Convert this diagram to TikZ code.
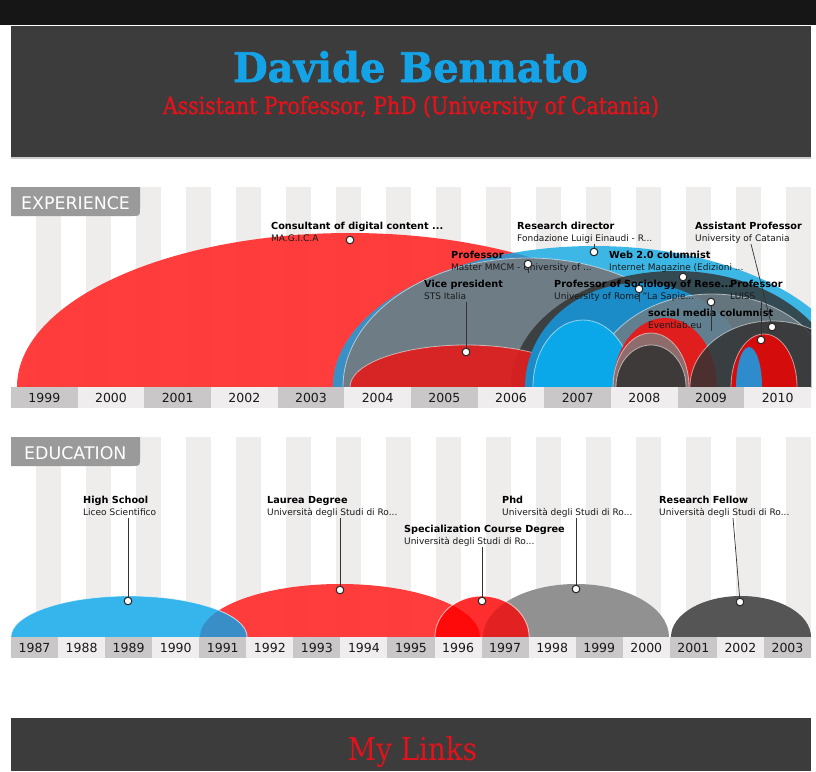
\documentclass[tikz,border=0pt]{standalone}
\usepackage{fontspec}
\usepackage{graphicx}
\setmainfont{DejaVu Sans}
\newfontfamily\slab{DejaVu Serif}
\newfontfamily\slabheavy{DejaVu Serif Bold}[FakeBold=1.6]
\newfontfamily\slabmed{DejaVu Serif}[FakeBold=1.2]
\definecolor{topbar}{HTML}{161616}
\definecolor{hdr}{HTML}{3C3C3C}
\definecolor{titleblue}{HTML}{14A3E6}
\definecolor{subred}{HTML}{E5121B}
\definecolor{stripe}{HTML}{EFECEC}
\definecolor{ydark}{HTML}{C9C7C7}
\definecolor{ylight}{HTML}{EFEDED}
\definecolor{tabgray}{HTML}{9A9A9A}
\definecolor{cRed}{HTML}{FF3333}
\definecolor{cLBlue}{HTML}{33B5E5}
\definecolor{cBlueRed}{HTML}{3A8FC4}
\definecolor{cSteel}{HTML}{6E7C86}
\definecolor{cDark}{HTML}{333333}
\definecolor{cVP}{HTML}{E01E1E}
\definecolor{cMBlue}{HTML}{1B8CC8}
\definecolor{cSlate}{HTML}{6E7D86}
\definecolor{cCyan}{HTML}{0AA8E8}
\definecolor{cRed8}{HTML}{E01E1E}
\definecolor{cPink}{HTML}{8E6C6C}
\definecolor{cBrown}{HTML}{3F3A3A}
\definecolor{cRed10}{HTML}{D40C0C}
\definecolor{cBlue10}{HTML}{2E8CCC}
\definecolor{eBlue}{HTML}{35B5EC}
\definecolor{eBlueRed}{HTML}{3A8EC8}
\definecolor{ePhd}{HTML}{919191}
\definecolor{eSpec}{HTML}{FF2E2E}
\definecolor{eSpecL}{HTML}{FF0A0A}
\definecolor{eSpecP}{HTML}{E22222}
\definecolor{eRF}{HTML}{555555}
\begin{document}
\begin{tikzpicture}[x=1pt,y=-1pt,
  ttl/.style={font=\fontsize{9.7}{11}\selectfont\bfseries, inner sep=0, anchor=base west, text=black},
  sub/.style={font=\fontsize{9}{11}\selectfont, inner sep=0, anchor=base west, text depth=2.5pt, text=black!90},
  yr/.style={font=\fontsize{12.5}{14}\selectfont, inner sep=0, anchor=base, text=black!90},
  tabtext/.style={font=\fontsize{17.4}{20}\selectfont, inner sep=0, anchor=base west, text=white},
  dot/.style={circle, draw=black!85, fill=white, line width=0.9pt, minimum size=7.5pt, inner sep=0},
  leader/.style={draw=black!80, line width=0.7pt},
  rim/.style={draw=white, draw opacity=0.55, line width=0.8pt}]
\useasboundingbox (0,0) rectangle (816,771);
\fill[white] (0,0) rectangle (816,771);
% top bar and header
\fill[topbar] (0,0) rectangle (816,25);
\fill[hdr] (11,26) rectangle (811,157);
\fill[black!20] (11,157) rectangle (811,159);
\node[inner sep=0, anchor=base, text=titleblue] (title) at (410.5,82) {\resizebox{355pt}{31pt}{\slabheavy Davide Bennato}};
\node[inner sep=0, anchor=base, text=subred] (subtitle) at (411,114) {\resizebox{496pt}{18pt}{\slabmed Assistant Professor, PhD (University of Catania)}};

% ===== EXPERIENCE =====
\foreach \i in {0,...,15} \fill[stripe] ({36+50*\i},187) rectangle ++(25,200);
\begin{scope}
\clip (11,187) rectangle (811,387);
\fill[cRed, opacity=0.95] (350,387) ellipse [x radius=333, y radius=154];
\fill[cLBlue, opacity=0.95] (594,387) ellipse [x radius=261, y radius=141];
\begin{scope}
\clip (350,387) ellipse [x radius=333, y radius=154];
\fill[cBlueRed] (594,387) ellipse [x radius=261, y radius=141];
\end{scope}
\fill[cSteel, rim] (528,387) ellipse [x radius=185, y radius=129];
\fill[cDark, fill opacity=0.82] (675,387) ellipse [x radius=164, y radius=116];
\fill[cVP, fill opacity=0.92, rim] (466,387) ellipse [x radius=116, y radius=42];
\fill[cMBlue] (639,387) ellipse [x radius=114, y radius=104];
\fill[cSlate, fill opacity=0.85, rim] (712,387) ellipse [x radius=120, y radius=93];
\fill[cCyan, rim] (583,387) ellipse [x radius=50, y radius=67];
\fill[cRed8] (665,387) ellipse [x radius=52, y radius=69];
\fill[cPink, rim] (651,387) ellipse [x radius=38, y radius=54];
\fill[cBrown, rim] (651,387) ellipse [x radius=35, y radius=42];
\fill[cDark, fill opacity=0.85, rim] (772,387) ellipse [x radius=82, y radius=66];
\fill[cRed10, rim] (764,387) ellipse [x radius=33, y radius=53];
\fill[cBlue10] (749,387) ellipse [x radius=13, y radius=40];
\end{scope}
% tab
\fill[tabgray] (11,187) -- (140,187) -- (140,208) .. controls (140,216) .. (132,216) -- (11,216) -- cycle;
\node[tabtext] (exptab) at (21,209) {EXPERIENCE};
% year bar
\foreach \i in {0,...,11}{
  \pgfmathsetmacro{\xa}{11+\i*800/12}
  \pgfmathtruncatemacro{\yy}{1999+\i}
  \ifodd\i \fill[ylight] (\xa,387) rectangle ++(66.667,21); \else \fill[ydark] (\xa,387) rectangle ++(66.667,21); \fi
  \node[yr] (ey\i) at (\xa+33.333,402.5) {\yy};
}
% labels
\node[ttl] (tC) at (271,229) {Consultant of digital content ...};
\node[sub] (sC) at (271,241) {MA.G.I.C.A};
\node[ttl] (tRD) at (517,229) {Research director};
\node[sub] (sRD) at (517,241) {Fondazione Luigi Einaudi - R...};
\node[ttl] (tAP) at (695,229) {Assistant Professor};
\node[sub] (sAP) at (695,241) {University of Catania};
\node[ttl] (tMM) at (451,258) {Professor};
\node[sub] (sMM) at (451,270) {Master MMCM - University of ...};
\node[ttl] (tW) at (609,258) {Web 2.0 columnist};
\node[sub] (sW) at (609,270) {Internet Magazine (Edizioni ...};
\node[ttl] (tVP) at (424,287) {Vice president};
\node[sub] (sVP) at (424,299) {STS Italia};
\node[ttl] (tSo) at (554,287) {Professor of Sociology of Rese...};
\node[sub] (sSo) at (554,299) {University of Rome "La Sapie...};
\node[ttl] (tLU) at (730,287) {Professor};
\node[sub] (sLU) at (730,299) {LUISS};
\node[ttl] (tSM) at (648,316) {social media columnist};
\node[sub] (sSM) at (648,328) {Eventlab.eu};
% dots
\node[dot] (dC) at (350,240) {};
\node[dot] (dRD) at (594,252) {};
\node[dot] (dMM) at (528,264) {};
\node[dot] (dW) at (683,277) {};
\node[dot] (dSo) at (639,289) {};
\node[dot] (dSM) at (711,302) {};
\node[dot] (dVP) at (466,352) {};
\node[dot] (dLU) at (761,340) {};
\node[dot] (dAP) at (772,327) {};
\coordinate (cAP) at (751,244);
\draw[leader] (dC.center) -- (dC.center |- sC.south);
\draw[leader] (dRD.center) -- (dRD.center |- sRD.south);
\draw[leader] (dMM.center) -- (dMM.center |- sMM.south);
\draw[leader] (dW.center) -- (dW.center |- sW.south);
\draw[leader] (dSo.center) -- (dSo.center |- sSo.south);
\draw[leader] (dSM.center) -- (dSM.center |- sSM.south);
\draw[leader] (dVP.center) -- (dVP.center |- sVP.south);
\draw[leader] (dLU.center) -- (dLU.center |- sLU.south);
\draw[leader] (cAP) -- (dAP.center);
\foreach \p in {{350,240},{594,252},{528,264},{683,277},{639,289},{711,302},{466,352},{761,340},{772,327}}
  \node[dot] at (\p) {};

% ===== EDUCATION =====
\foreach \i in {0,...,15} \fill[stripe] ({36+50*\i},437) rectangle ++(25,200);
\begin{scope}
\clip (11,437) rectangle (811,637);
\fill[cRed, opacity=0.95] (340,637) ellipse [x radius=140, y radius=53];
\fill[eBlue, rim] (129,637) ellipse [x radius=118, y radius=41];
\begin{scope}
\clip (340,637) ellipse [x radius=140, y radius=53];
\fill[eBlueRed, rim] (129,637) ellipse [x radius=118, y radius=41];
\end{scope}
\fill[ePhd] (576,637) ellipse [x radius=93, y radius=53];
\fill[eSpec, rim] (482,637) ellipse [x radius=47, y radius=41];
\begin{scope}
\clip (340,637) ellipse [x radius=140, y radius=53];
\fill[eSpecL] (482,637) ellipse [x radius=47, y radius=41];
\end{scope}
\begin{scope}
\clip (576,637) ellipse [x radius=93, y radius=53];
\fill[eSpecP] (482,637) ellipse [x radius=47, y radius=41];
\end{scope}
\draw[rim] (482,637) ellipse [x radius=47, y radius=41];
\fill[eRF] (741,637) ellipse [x radius=70, y radius=41];
\end{scope}
\fill[tabgray] (11,437) -- (140,437) -- (140,458) .. controls (140,466) .. (132,466) -- (11,466) -- cycle;
\node[tabtext] (edutab) at (24,459) {EDUCATION};
\foreach \i in {0,...,16}{
  \pgfmathsetmacro{\xa}{11+\i*800/17}
  \pgfmathtruncatemacro{\yy}{1987+\i}
  \ifodd\i \fill[ylight] (\xa,637) rectangle ++(47.059,21); \else \fill[ydark] (\xa,637) rectangle ++(47.059,21); \fi
  \node[yr] (ed\i) at (\xa+23.53,652.5) {\yy};
}
\node[ttl] (tHS) at (83,503) {High School};
\node[sub] (sHS) at (83,515) {Liceo Scientifico};
\node[ttl] (tLa) at (267,503) {Laurea Degree};
\node[sub] (sLa) at (267,515) {Università degli Studi di Ro...};
\node[ttl] (tSp) at (404,532) {Specialization Course Degree};
\node[sub] (sSp) at (404,544) {Università degli Studi di Ro...};
\node[ttl] (tPh) at (502,503) {Phd};
\node[sub] (sPh) at (502,515) {Università degli Studi di Ro...};
\node[ttl] (tRF) at (659,503) {Research Fellow};
\node[sub] (sRF) at (659,515) {Università degli Studi di Ro...};
\node[dot] (dHS) at (128,601) {};
\node[dot] (dLa) at (340,590) {};
\node[dot] (dSp) at (482,601) {};
\node[dot] (dPh) at (576,589) {};
\node[dot] (dRF) at (740,602) {};
\coordinate (cRF) at (733,518);
\draw[leader] (dHS.center) -- (dHS.center |- sHS.south);
\draw[leader] (dLa.center) -- (dLa.center |- sLa.south);
\draw[leader] (dSp.center) -- (dSp.center |- sSp.south);
\draw[leader] (dPh.center) -- (dPh.center |- sPh.south);
\draw[leader] (cRF) -- (dRF.center);
\foreach \p in {{128,601},{340,590},{482,601},{576,589},{740,602}}
  \node[dot] at (\p) {};

% footer
\fill[hdr] (11,718) rectangle (811,771);
\node[inner sep=0, anchor=base, text=subred] (links) at (412.5,760) {\resizebox{129pt}{24pt}{\slab My Links}};
\end{tikzpicture}
\end{document}
